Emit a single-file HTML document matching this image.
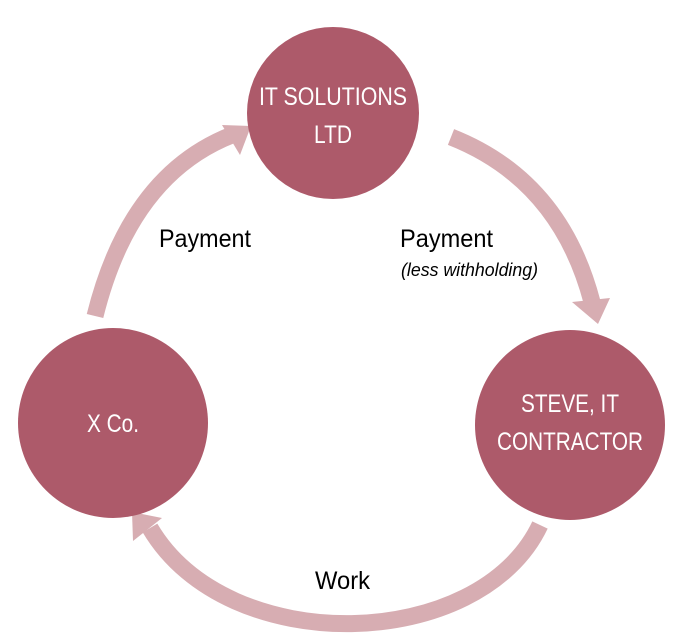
<!DOCTYPE html>
<html><head><meta charset="utf-8"><style>
html,body{margin:0;padding:0;background:#fff;}
svg{display:block;}
text{font-family:"Liberation Sans Narrow","Liberation Sans",sans-serif;}
</style></head><body>
<svg width="685" height="638" viewBox="0 0 685 638" xmlns="http://www.w3.org/2000/svg">
<g fill="none" stroke="#d7adb2" stroke-width="17">
<path d="M95,316 Q130,175 232,135"/>
<path d="M451,137 Q560,180 592,302"/>
<path d="M540,525 C480,652 228,660 150,528"/>
</g>
<g fill="#d7adb2">
<polygon points="222,125 251,126 240,155"/>
<polygon points="572,302 610,298 598,324"/>
<polygon points="133,541 132,512 162,518"/>
</g>
<g fill="#ad5a6a">
<circle cx="333" cy="113" r="86"/>
<circle cx="113" cy="423" r="95"/>
<circle cx="570" cy="425" r="95"/>
</g>
<g fill="#fff" font-size="25" text-anchor="middle">
<text x="333" y="105" textLength="148" lengthAdjust="spacingAndGlyphs">IT SOLUTIONS</text>
<text x="333" y="143" textLength="38" lengthAdjust="spacingAndGlyphs">LTD</text>
<text x="113" y="432" textLength="52" lengthAdjust="spacingAndGlyphs">X Co.</text>
<text x="570" y="412" textLength="98" lengthAdjust="spacingAndGlyphs">STEVE, IT</text>
<text x="570" y="450" textLength="146" lengthAdjust="spacingAndGlyphs">CONTRACTOR</text>
</g>
<g fill="#000">
<text x="159" y="247" font-size="25" textLength="92" lengthAdjust="spacingAndGlyphs">Payment</text>
<text x="400" y="247" font-size="25" textLength="93" lengthAdjust="spacingAndGlyphs">Payment</text>
<text x="401" y="276" font-size="18" font-style="italic" textLength="137" lengthAdjust="spacingAndGlyphs">(less withholding)</text>
<text x="315" y="589" font-size="25" textLength="55" lengthAdjust="spacingAndGlyphs">Work</text>
</g>
</svg>
</body></html>
